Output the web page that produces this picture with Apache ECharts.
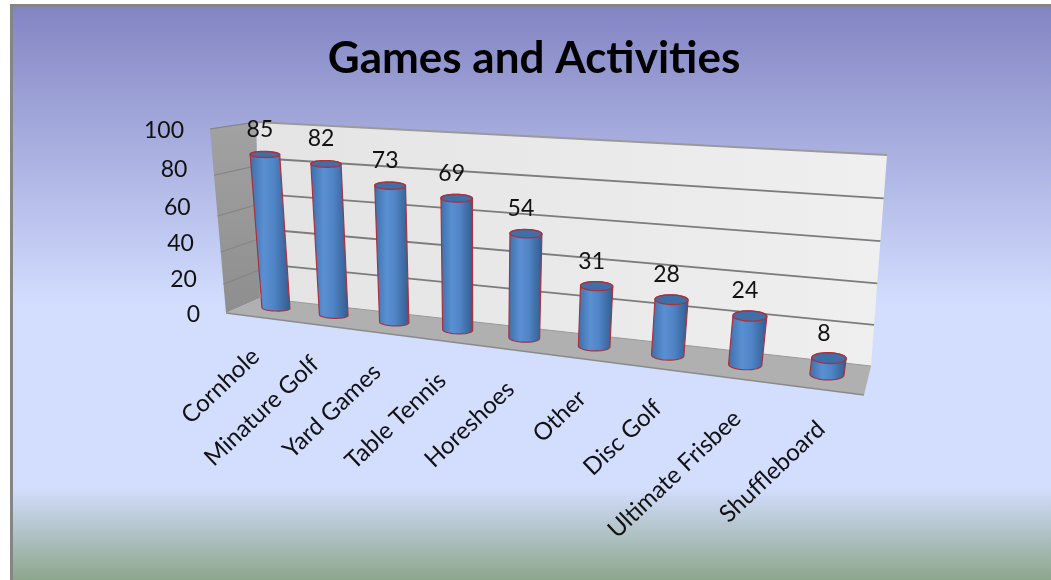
<!DOCTYPE html>
<html><head><meta charset="utf-8">
<style>html,body{margin:0;padding:0;background:#fff}#c{width:1051px;height:580px;filter:blur(0.45px)}</style>
<script src="https://cdn.jsdelivr.net/npm/echarts@6/dist/echarts.min.js"></script>
</head><body><div id="c"></div>
<script>
var categories = ['Cornhole','Minature Golf','Yard Games','Table Tennis','Horeshoes','Other','Disc Golf','Ultimate Frisbee','Shuffleboard'];
var values = [85,82,73,69,54,31,28,24,8];
var tickValues = [0,20,40,60,80,100];
var titleText = 'Games and Activities';
var FONT = 'Lato, "Open Sans", sans-serif';

// Perspective view of the chart's plain cartesian plot area
function quad(p0,p1,p2,p3){
  var dx1=p1[0]-p2[0],dx2=p3[0]-p2[0],sx=p0[0]-p1[0]+p2[0]-p3[0];
  var dy1=p1[1]-p2[1],dy2=p3[1]-p2[1],sy=p0[1]-p1[1]+p2[1]-p3[1];
  var den=dx1*dy2-dx2*dy1;
  var g=(sx*dy2-dx2*sy)/den,h=(dx1*sy-sx*dy1)/den;
  var a=p1[0]-p0[0]+g*p1[0],b=p3[0]-p0[0]+h*p3[0],c=p0[0];
  var d=p1[1]-p0[1]+g*p1[1],e=p3[1]-p0[1]+h*p3[1],f=p0[1];
  return function(u,v){var w=g*u+h*v+1;return [(a*u+b*v+c)/w,(d*u+e*v+f)/w];};
}
var FL=[226,313],FR=[864,395],BL=[260,298],BR=[871,366],BLT=[256,122],BRT=[887,155],FLT=[210,129];
var backWall=quad(BL,BR,BRT,BLT), leftWall=quad(FL,BL,BLT,FLT);
function den(u,v){return 1-0.2*u-0.06*v;}
function barPlane(u,v){var d=den(u,v);return [(248+447.6*u-28.7*v)/d,(304.65-0.9*u-187.9*v)/d];}
function frontEdge(u){var d=1-0.2*u;return [(226+465*u)/d,(313+3*u)/d];}
function tickPos(v){var d=1-0.06*v;return [(200-27*v)/d,(315-192*v)/d];}

function norm(api,params,x,y){
  var p=api.coord([x,y]),r=params.coordSys;
  return [(p[0]-r.x)/r.width,(r.y+r.height-p[1])/r.height];
}
function ellipse(c,rx,ry,th,t0,t1,n){
  var pts=[],ct=Math.cos(th),st=Math.sin(th);
  for(var i=0;i<=n;i++){var t=t0+(t1-t0)*i/n,a=rx*Math.cos(t),b=ry*Math.sin(t);
    pts.push([c[0]+a*ct-b*st,c[1]+a*st+b*ct]);}
  return pts;
}
var RED='#a8323f';
var barFill={type:'linear',x:0,y:0,x2:1,y2:0,colorStops:[
  {offset:0,color:'#3d6ea8'},{offset:0.35,color:'#5a90d2'},{offset:0.6,color:'#4f84c6'},{offset:1,color:'#325b8c'}]};

function renderBar(params,api){
  var i=api.value(0),val=api.value(1);
  var n=norm(api,params,i,val),u=n[0],v=n[1];
  var top=barPlane(u,v),base=barPlane(u,0);
  var tang=function(vv){var a=barPlane(u-0.01,vv),b=barPlane(u+0.01,vv);return Math.atan2(b[1]-a[1],b[0]-a[0]);};
  var ry=0.19*(15+14*u);
  var rxT=13.85/den(u,v),rxB=13.85/den(u,0);
  var thT=tang(v)*0.25,thB=tang(0)*0.25;
  var body=ellipse(base,rxB,ry,thB,0,Math.PI,24).concat(ellipse(top,rxT,ry,thT,Math.PI,2*Math.PI,24));
  var cap=ellipse(top,rxT,ry,thT,0,2*Math.PI,40);
  return {type:'group',children:[
    {type:'polygon',shape:{points:body},style:{fill:barFill,stroke:RED,lineWidth:1.2}},
    {type:'polygon',shape:{points:cap},style:{fill:'#3f6fa6',stroke:RED,lineWidth:1.4}},
    {type:'text',x:top[0]-5,y:top[1]-25,style:{text:String(val),align:'center',verticalAlign:'middle',font:'23px '+FONT,fill:'#111111'}}
  ]};
}
function renderGrid(params,api){
  var n=norm(api,params,0,api.value(1)),v=n[1],tv=api.value(1);
  var kids=[];
  if(tv>0){
    var a=leftWall(0,v),b=leftWall(1,v),c=backWall(1,v);
    kids.push({type:'polyline',shape:{points:[a,b]},style:{stroke:'#858585',lineWidth:1.2,fill:'none'}});
    kids.push({type:'polyline',shape:{points:[backWall(0,v),c]},style:{stroke:tv===100?'#9a9a9a':'#7c7c7c',lineWidth:1.8,fill:'none'}});
  }
  var t=tickPos(v);
  kids.push({type:'text',x:t[0],y:t[1],style:{text:String(tv),align:'right',verticalAlign:'middle',font:'23px '+FONT,fill:'#111111'}});
  return {type:'group',children:kids};
}
function renderWalls(params,api){
  return {type:'group',children:[
    {type:'polygon',shape:{points:[BL,BR,BRT,BLT]},style:{fill:{type:'linear',x:0,y:0,x2:1,y2:0,colorStops:[{offset:0,color:'#e4e4e4'},{offset:1,color:'#efefef'}]}}},
    {type:'polygon',shape:{points:[FL,BL,BLT,FLT]},style:{fill:{type:'linear',x:0,y:0,x2:0,y2:1,colorStops:[{offset:0,color:'#a2a2a2'},{offset:1,color:'#8e8e8e'}]}}},
    {type:'polygon',shape:{points:[FL,FR,BR,BL]},style:{fill:'#b0b0b0'}},
    {type:'polyline',shape:{points:[FL,FR]},style:{stroke:'#8a8a8a',lineWidth:1.5,fill:'none'}},
    {type:'polyline',shape:{points:[FLT,BLT]},style:{stroke:'#9a9a9a',lineWidth:1,fill:'none'}},
    {type:'polyline',shape:{points:[BL,BR]},style:{stroke:'#9a9a9a',lineWidth:1,fill:'none'}}
  ]};
}
function renderCat(params,api){
  var n=norm(api,params,api.value(0),0),f=frontEdge(n[0]);
  return {type:'text',x:f[0]+1,y:f[1]+36,rotation:0.76,style:{text:categories[api.value(0)],align:'right',verticalAlign:'middle',font:'24px '+FONT,fill:'#111111'}};
}

var chart=echarts.init(document.getElementById('c'),null,{renderer:'canvas'});
chart.setOption({
  animation:false,
  backgroundColor:'#ffffff',
  title:{text:titleText,left:529,top:32,textAlign:'center',textStyle:{fontFamily:FONT,fontWeight:'bold',fontSize:44,color:'#000000'}},
  graphic:[
    {type:'rect',z:-10,shape:{x:10,y:4,width:1041,height:576},style:{fill:'#858585'},silent:true},
    {type:'rect',z:-9,shape:{x:13,y:7,width:1038,height:573},silent:true,style:{fill:{type:'linear',x:0,y:0,x2:0,y2:1,colorStops:[
      {offset:0,color:'#8385c3'},{offset:0.524,color:'#d3deff'},{offset:0.838,color:'#d3deff'},{offset:0.87,color:'#c6d3e8'},{offset:1,color:'#8da68d'}]}}}
  ],
  grid:{left:100,right:100,top:100,bottom:100},
  xAxis:{type:'category',data:categories,show:false},
  yAxis:{type:'value',min:0,max:100,interval:20,show:false},
  series:[
    {type:'custom',z:1,silent:true,renderItem:renderWalls,data:[[0,0]],encode:{x:0,y:1},clip:false},
    {type:'custom',z:2,silent:true,renderItem:renderGrid,data:tickValues.map(function(t){return [0,t];}),encode:{x:0,y:1},clip:false},
    {type:'custom',z:3,silent:true,renderItem:renderCat,data:categories.map(function(c,i){return [i,0];}),encode:{x:0,y:1},clip:false},
    {type:'custom',z:4,silent:true,renderItem:renderBar,data:values.map(function(v,i){return [i,v];}),encode:{x:0,y:1},clip:false}
  ]
});
</script></body></html>
